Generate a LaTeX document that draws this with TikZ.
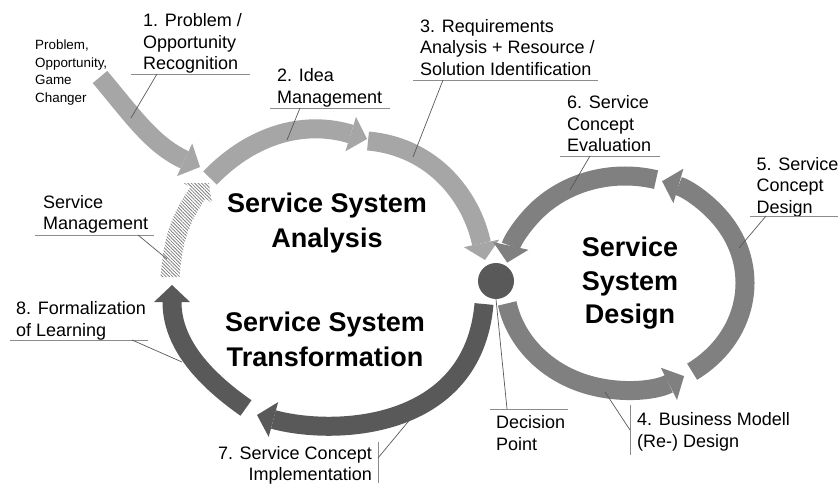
\documentclass[tikz,border=0pt]{standalone}
\usepackage{fontspec}
\setmainfont{Liberation Sans}
\usepackage{tikz}
\usetikzlibrary{positioning}
\usetikzlibrary{arrows.meta,patterns.meta}

\definecolor{lightarc}{HTML}{A6A6A6}
\definecolor{midarc}{HTML}{808080}
\definecolor{darkarc}{HTML}{595959}
\definecolor{rulegray}{HTML}{8C8C8C}

\tikzset{
	band/.style={line width=19pt,-{Triangle[length=17pt,width=36pt,line width=0pt 0 0]}},
	lbl/.style={inner sep=0pt,anchor=north west,align=left,font=\fontsize{18}{21.5}\selectfont},
	small/.style={lbl,font=\fontsize{13.4}{17.5}\selectfont},
	title/.style={inner sep=0pt,anchor=north,align=center,font=\bfseries\fontsize{27}{35}\selectfont},
	rule/.style={draw=rulegray,line width=0.9pt},
	lead/.style={draw=darkarc,line width=0.7pt}
}

\begin{document}
\begin{tikzpicture}[x=1pt,y=1pt]
	\useasboundingbox (0,0) rectangle (838,-484);

	% left loop
	\draw[band,lightarc] (100,-77) to[out=-50,in=155] (200,-167);
	\draw[band,lightarc] (210,-178) to[out=46,in=163] (367,-139);
	\draw[band,lightarc] (368,-141) to[out=-5,in=102] (485,-260);
	\draw[band,darkarc] (484,-304) .. controls (473,-431) and (334,-436) .. (257,-415);
	\draw[band,darkarc] (246,-408) to[out=145,in=-90] (172,-285);
	\begin{scope}
		\clip (150,-183) rectangle (230,-290);
		\fill[pattern={Lines[angle=-45,distance=2.4pt,line width=0.8pt]},pattern color=midarc]
			(160.5,-277) to[out=85,in=235] (190.2,-187.5) -- (184,-183.2) -- (208,-179)
			-- (212,-203) -- (205.8,-198.5) to[out=235,in=85] (179.5,-277) -- cycle;
	\end{scope}

	% right loop
	\coordinate (rc) at (625,-283);
	\draw[band,midarc] ([shift={(191:120 and 107)}]rc) arc[start angle=191,end angle=299.5,x radius=120,y radius=107];
	\draw[band,midarc] ([shift={(-56:120 and 107)}]rc) arc[start angle=-56,end angle=72,x radius=120,y radius=107];
	\draw[band,midarc] ([shift={(75:120 and 107)}]rc) arc[start angle=75,end angle=169,x radius=120,y radius=107];

	\node[circle,fill=darkarc,minimum size=36pt,inner sep=0pt] (dp) at (496,-281) {};

	% titles
	\node[title] (tana) at (327,-192.5) {Service System\\Analysis};
	\node[title] (ttra) at (325,-311.5) {Service System\\Transformation};
	\node[title,font=\bfseries\fontsize{27}{33.5}\selectfont] (tdes) at (630,-237) {Service\\System\\Design};

	% labels
	\node[small] (src) at (35,-40) {Problem,\\Opportunity,\\Game\\Changer};

	\node[lbl] (l1) at (143,-13.5) {1. Problem /\\Opportunity\\Recognition};
	\coordinate (u1) at (131,-74); \coordinate (a1) at (131,-118);
	\draw[rule] (u1) -- ++(119,0);
	\draw[lead] ([xshift=26pt]u1) -- (a1);

	\node[lbl] (l2) at (277,-68.3) {2. Idea\\Management};
	\coordinate (u2) at (270,-108); \coordinate (a2) at (287,-140);
	\draw[rule] (u2) -- ++(120,0);
	\draw[lead] ([xshift=30pt]u2) -- (a2);

	\node[lbl] (l3) at (420,-19) {3. Requirements\\Analysis + Resource /\\Solution Identification};
	\coordinate (u3) at (413,-80); \coordinate (a3) at (413,-157);
	\draw[rule] (u3) -- ++(185,0);
	\draw[lead] ([xshift=30pt]u3) -- (a3);

	\node[lbl] (l6) at (567,-95.7) {6. Service\\Concept\\Evaluation};
	\coordinate (u6) at (560,-156); \coordinate (a6) at (570,-190);
	\draw[rule] (u6) -- ++(100,0);
	\draw[lead] ([xshift=30pt]u6) -- (a6);

	\node[lbl] (l5) at (756.5,-157) {5. Service\\Concept\\Design};
	\coordinate (u5) at (750,-216); \coordinate (a5) at (739,-248);
	\draw[rule] (u5) -- ++(88,0);
	\draw[lead] ([xshift=16pt]u5) -- (a5);

	\node[lbl] (lsm) at (43,-195) {Service\\Management};
	\coordinate (usm) at (35,-235); \coordinate (asm) at (167,-259);
	\draw[rule] (usm) -- ++(119,0);
	\draw[lead] ([xshift=103pt]usm) -- (asm);

	\node[lbl] (l8) at (16,-301.7) {8. Formalization\\of Learning};
	\coordinate (u8) at (10,-340); \coordinate (a8) at (182,-362);
	\draw[rule] (u8) -- ++(138,0);
	\draw[lead] ([xshift=122pt]u8) -- (a8);

	\node[lbl,anchor=north east,align=right] (l7) at (372,-446) {7. Service Concept\\Implementation};
	\coordinate (u7) at (378,-442); \coordinate (a7) at (412,-417);
	\draw[rule] (u7) -- ++(0,-41);
	\draw[lead] ([yshift=-16pt]u7) -- (a7);

	\node[lbl] (ldp) at (496,-415.7) {Decision\\Point};
	\coordinate (udp) at (490,-409);
	\draw[rule] (udp) -- ++(78,0);
	\draw[lead] ([xshift=17pt]udp) -- (dp.south);

	\node[lbl] (l4) at (637,-412.7) {4. Business Modell\\(Re-) Design};
	\coordinate (u4) at (630,-405); \coordinate (a4) at (605,-392);
	\draw[rule] (u4) -- ++(0,-50);
	\draw[lead] ([yshift=-25pt]u4) -- (a4);
\end{tikzpicture}
\end{document}
